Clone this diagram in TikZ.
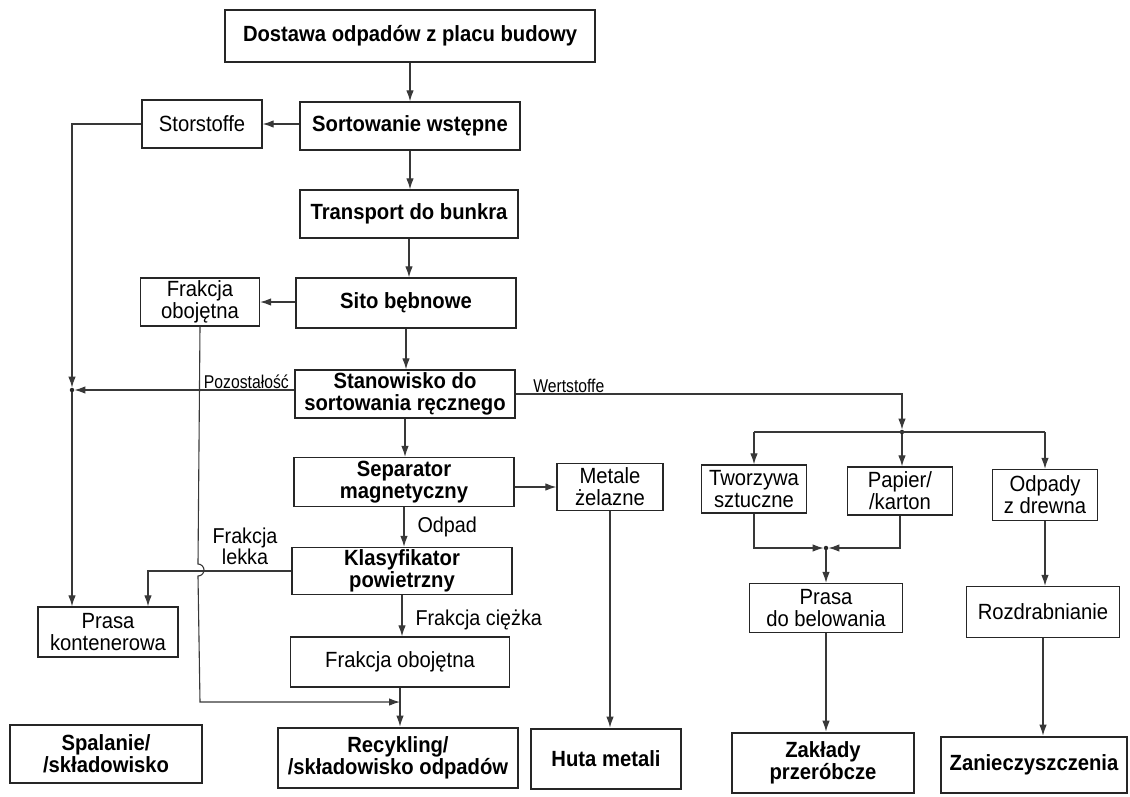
\documentclass[tikz,border=0pt]{standalone}
\usepackage{fontspec}
\setmainfont{Liberation Sans}
\newfontfamily\boxfont{Liberation Sans}[FakeStretch=0.92]
\newfontfamily\tagfont{Liberation Sans}[FakeStretch=0.85]
\usetikzlibrary{arrows.meta}

\tikzset{
  wh/.style 2 args={minimum width=#1pt, minimum height=#2pt},
  box/.style={draw=black!85, line width=1.4pt, align=center, inner sep=1pt, font=\boxfont\fontsize{22}{22}\selectfont},
  boldbox/.style={box, font=\boxfont\fontsize{22}{22}\selectfont\bfseries},
  endbox/.style={boldbox, line width=2.8pt},
  flow/.style={draw=black!78, line width=1.1pt, -{Latex[length=11pt,width=7.5pt]}},
  link/.style={draw=black!78, line width=1.1pt},
  tag/.style={font=\tagfont\fontsize{18.5}{19}\selectfont, inner sep=1pt, align=center},
  note/.style={font=\boxfont\fontsize{21.5}{20}\selectfont, inner sep=1pt, align=center},
  junct/.style={circle, fill=black!85, inner sep=0pt, minimum size=4.5pt},
}

\begin{document}
\begin{tikzpicture}[x=1pt, y=-1pt]
  \useasboundingbox (0,0) rectangle (1130,796);

  \node[endbox, wh={370}{52}] (dostawa) at (410,36) {Dostawa odpadów z placu budowy};
  \node[boldbox, wh={220}{48}] (sortow) at (410,126) {Sortowanie wstępne};
  \node[box, wh={120}{48}] (storst) at (202,124) {Storstoffe};
  \node[boldbox, wh={218}{48}] (transp) at (409,214) {Transport do bunkra};
  \node[boldbox, wh={220}{50}] (sito) at (406,303) {Sito bębnowe};
  \node[box, wh={119}{48}] (frakob1) at (200,302) {Frakcja\\obojętna};
  \node[boldbox, wh={220}{48}] (stanow) at (405,394) {Stanowisko do\\sortowania ręcznego};
  \node[boldbox, wh={220}{49}] (separ) at (404,482) {Separator\\magnetyczny};
  \node[box, wh={106}{47}] (metale) at (610,487) {Metale\\żelazne};
  \node[boldbox, wh={220}{47}] (klasyf) at (402,571) {Klasyfikator\\powietrzny};
  \node[box, wh={140}{50}] (prasak) at (108,632) {Prasa\\kontenerowa};
  \node[box, wh={219}{50}] (frakob2) at (400,662) {Frakcja obojętna};

  \node[box, wh={105}{48}] (tworz) at (754,489) {Tworzywa\\sztuczne};
  \node[box, wh={105}{48}] (papier) at (900,491) {Papier/\\/karton};
  \node[box, wh={105}{51}] (odpady) at (1045,495) {Odpady\\z drewna};
  \node[box, wh={153}{49}] (prasab) at (826,608) {Prasa\\do belowania};
  \node[box, wh={153}{51}] (rozdr) at (1043,612) {Rozdrabnianie};

  \node[endbox, wh={192}{58}] (spalanie) at (106,754) {Spalanie/\\/składowisko};
  \node[endbox, wh={240}{60}] (recykl) at (398,758) {Recykling/\\/składowisko odpadów};
  \node[endbox, wh={150}{60}] (huta) at (606,759) {Huta metali};
  \node[endbox, wh={182}{60}] (zaklady) at (823,763) {Zakłady\\przeróbcze};
  \node[endbox, wh={186}{56}] (zaniecz) at (1034,765) {Zanieczyszczenia};

  \node[junct] (j1) at (72,390) {};
  \node[junct] (j2) at (902,432) {};
  \node[junct] (j3) at (826,548) {};
  \coordinate (hop) at (198,570);
  \coordinate (feed) at (400,702);
  \node[note, anchor=south] (lekka) at (245,566) {Frakcja\\lekka};

  \draw[flow] (dostawa.south) -- (dostawa.south |- sortow.north);
  \draw[flow] (sortow.west |- storst.east) -- (storst.east);
  \draw[flow] (storst.west) -| (j1);
  \draw[flow] (j1) -- (j1 |- prasak.north);
  \draw[flow] (sortow.south) -- (sortow.south |- transp.north);
  \draw[flow] (transp.south) -- (transp.south |- sito.north);
  \draw[flow] (sito.west |- frakob1.east) -- (frakob1.east);
  \draw[flow] (sito.south) -- (sito.south |- stanow.north);
  \draw[flow] (stanow.west |- j1) node[tag, anchor=south east, xshift=-4pt] {Pozostałość} -- (j1);
  \draw[flow] (stanow.east) node[tag, anchor=south west, xshift=16pt] {Wertstoffe} -| (j2);
  \draw[link] (tworz.north |- j2) -- (odpady.north |- j2);
  \draw[flow] (tworz.north |- j2) -- (tworz.north);
  \draw[flow] (j2) -- (j2 |- papier.north);
  \draw[flow] (odpady.north |- j2) -- (odpady.north);
  \draw[flow] (stanow.south) -- (stanow.south |- separ.north);
  \draw[flow] (separ.east |- metale.west) -- (metale.west);
  \draw[flow] (metale.south) -- (metale.south |- huta.north);
  \draw[flow] (separ.south) -- node[note, right=12pt, pos=0.5] {Odpad} (separ.south |- klasyf.north);
  \draw[flow] (klasyf.west) -| ([xshift=40pt]prasak.north);
  \draw[flow] (klasyf.south) -- node[note, right=12pt, pos=0.6] {Frakcja ciężka} (klasyf.south |- frakob2.north);
  \draw[flow] (frakob2.south) -- (frakob2.south |- recykl.north);
  \draw[flow] (frakob1.south) -- ([yshift=6pt]hop) arc[start angle=90, end angle=-90, radius=6pt]
    -- (feed -| frakob1.south) -- (feed);
  \draw[flow] (tworz.south) |- (j3);
  \draw[flow] (papier.south) |- (j3);
  \draw[flow] (j3) -- (prasab.north);
  \draw[flow] (prasab.south) -- (prasab.south |- zaklady.north);
  \draw[flow] (odpady.south) -- (odpady.south |- rozdr.north);
  \draw[flow] (rozdr.south) -- (rozdr.south |- zaniecz.north);
\end{tikzpicture}
\end{document}
